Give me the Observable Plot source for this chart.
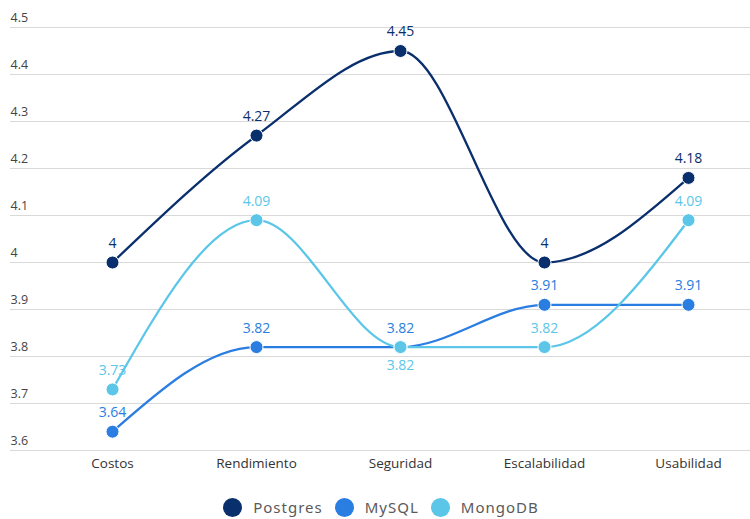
<!DOCTYPE html>
<html>
<head>
<meta charset="utf-8">
<script src="https://cdn.jsdelivr.net/npm/d3@7"></script>
<script src="https://cdn.jsdelivr.net/npm/@observablehq/plot@0.6"></script>
<style>
  html, body { margin: 0; padding: 0; background: #fff; width: 750px; height: 519px; overflow: hidden; }
  #chart svg { display: block; }
  #legend { display: flex; justify-content: center; align-items: center; height: 29px; padding-top: 3px; padding-left: 12px; font-family: "Noto Sans", sans-serif; font-size: 15px; line-height: 19px; color: #5a5a5a; letter-spacing: 1px; }
  #legend .item { display: flex; align-items: center; margin: 0 6px; }
  #legend .sw { width: 19px; height: 19px; border-radius: 50%; margin-right: 11px; }
</style>
</head>
<body>
<div id="chart"></div>
<div id="legend"></div>
<script>
const categories = ["Costos", "Rendimiento", "Seguridad", "Escalabilidad", "Usabilidad"];
const seriesNames = ["Postgres", "MySQL", "MongoDB"];
const postgres = [4, 4.27, 4.45, 4, 4.18];
const mysql = [3.64, 3.82, 3.82, 3.91, 3.91];
const mongodb = [3.73, 4.09, 3.82, 3.82, 4.09];
const colors = ["#0a2f6d", "#2a7de1", "#5bc6e8"];
const yTicks = [3.6, 3.7, 3.8, 3.9, 4, 4.1, 4.2, 4.3, 4.4, 4.5];

const seriesValues = [postgres, mysql, mongodb];
const data = [];
seriesNames.forEach((s, i) => {
  categories.forEach((c, j) => data.push({series: s, cat: c, value: seriesValues[i][j]}));
});
const below = d => d.series === "MongoDB" && d.cat === "Seguridad";

const chart = Plot.plot({
  width: 750,
  height: 490,
  marginLeft: 10,
  marginRight: 0,
  marginTop: 27,
  marginBottom: 40,
  style: {fontFamily: "'Open Sans', sans-serif", background: "#fff"},
  x: {type: "point", domain: categories, range: [111, 689], padding: 0, label: null},
  y: {domain: [3.6, 4.5], label: null},
  color: {domain: seriesNames, range: colors},
  marks: [
    Plot.ruleY(yTicks, {stroke: "#d9d9d9", strokeWidth: 1}),
    Plot.axisY({ticks: yTicks, tickSize: 0, tickPadding: 0, textAnchor: "start", dx: 0, dy: -10,
      tickFormat: d => String(+d.toFixed(1)), fontSize: 12.5, fill: "#444", label: null}),
    Plot.axisX({tickSize: 0, tickPadding: 8, fontSize: 13.5, fill: "#333", label: null}),
    Plot.line(data, {x: "cat", y: "value", z: "series", stroke: "series", curve: "monotone-x", strokeWidth: 2.3}),
    Plot.dot(data, {x: "cat", y: "value", fill: "series", r: 6.5, stroke: "#fff", strokeWidth: 1}),
    Plot.text(data.filter(d => !below(d)), {x: "cat", y: "value", text: d => String(d.value), fill: "series", dy: -19, fontSize: 14}),
    Plot.text(data.filter(below), {x: "cat", y: "value", text: d => String(d.value), fill: "series", dy: 18, fontSize: 14})
  ]
});
document.getElementById("chart").appendChild(chart);

const legend = document.getElementById("legend");
seriesNames.forEach((s, i) => {
  const item = document.createElement("div");
  item.className = "item";
  const sw = document.createElement("span");
  sw.className = "sw";
  sw.style.background = colors[i];
  const t = document.createElement("span");
  t.textContent = s;
  item.appendChild(sw);
  item.appendChild(t);
  legend.appendChild(item);
});
</script>
</body>
</html>
